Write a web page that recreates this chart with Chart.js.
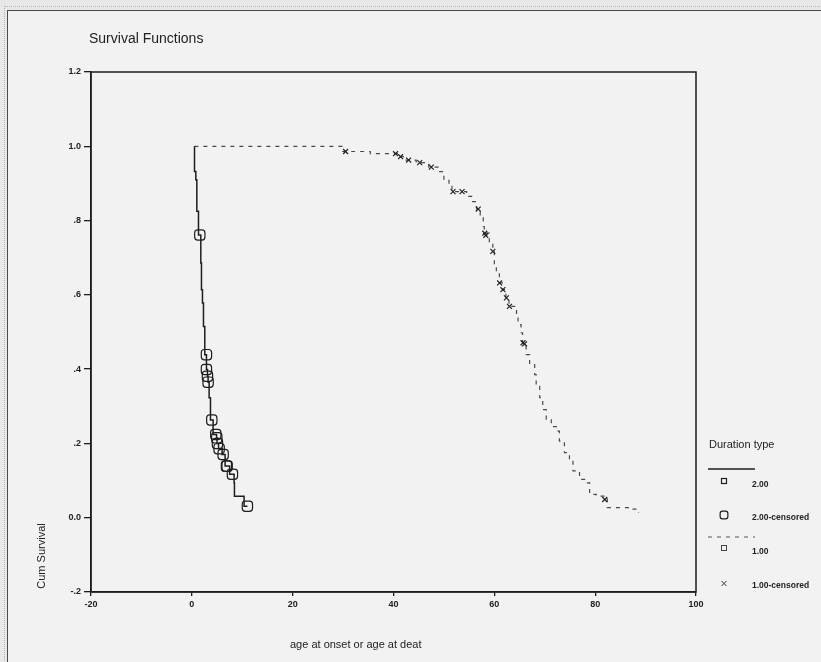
<!DOCTYPE html>
<html>
<head>
<meta charset="utf-8">
<title>Survival Functions</title>
<script src="https://cdn.jsdelivr.net/npm/chart.js@4/dist/chart.umd.min.js"></script>
<style>
  html, body { margin: 0; padding: 0; background: #e8e8e8; }
  #outer { position: absolute; left: 4px; top: 6px; width: 817px; height: 656px; border-left: 1px dotted #b4b4b4; border-top: 1px dotted #b4b4b4; }
  #panel { position: absolute; left: 7px; top: 10px; width: 814px; height: 652px; background: #f2f2f2; border-left: 1px solid #4a4a4a; border-top: 1px solid #4a4a4a; }
  #chart { position: absolute; left: 0; top: 0; }
</style>
</head>
<body>
<div id="outer"></div>
<div id="panel"></div>
<canvas id="chart" width="821" height="662"></canvas>
<script>
// Kaplan-Meier steps, duration type 2.00
const stepTimes2 = [0.53, 0.53, 0.79, 0.99, 1.32, 1.78, 1.91, 2.11, 2.31, 2.57, 2.90, 3.10, 3.23, 3.43, 3.70,
  4.22, 4.90, 5.00, 5.30, 6.00, 6.60, 7.50, 8.38, 8.45, 10.36, 11.02];
const stepSurv2 = [1.000, 0.932, 0.910, 0.825, 0.761, 0.686, 0.614, 0.578, 0.515, 0.439, 0.399, 0.381, 0.365, 0.323, 0.263,
  0.224, 0.215, 0.200, 0.186, 0.170, 0.139, 0.117, 0.094, 0.058, 0.031, 0.031];
const censTimes2 = [1.58, 2.90, 2.90, 3.10, 3.23, 3.96, 4.75, 4.95, 5.08, 5.41, 6.21, 6.87, 7.00, 8.05, 11.02];
const censSurv2 = [0.761, 0.439, 0.399, 0.381, 0.365, 0.263, 0.224, 0.215, 0.200, 0.186, 0.170, 0.139, 0.139, 0.117, 0.031];

// Kaplan-Meier steps, duration type 1.00
const stepTimes1 = [0.5, 29.8, 35.4, 41.0, 42.5, 44.5, 47.0, 49.0, 50.0, 51.0, 51.6, 54.5, 55.5, 56.5, 57.2, 57.8,
  58.0, 59.0, 59.7, 60.0, 60.4, 61.0, 61.6, 62.3, 62.9, 64.4, 64.7, 65.3, 65.6, 66.3, 67.0, 68.0, 68.3, 69.0,
  69.6, 70.3, 71.3, 72.3, 72.9, 73.9, 74.9, 75.6, 76.9, 78.2, 78.9, 80.2, 82.4, 86.8, 88.6];
const stepSurv1 = [1.000, 0.986, 0.980, 0.972, 0.963, 0.956, 0.944, 0.932, 0.911, 0.896, 0.878, 0.865, 0.851, 0.831, 0.807, 0.784,
  0.766, 0.739, 0.717, 0.677, 0.659, 0.632, 0.614, 0.592, 0.569, 0.547, 0.520, 0.498, 0.471, 0.439, 0.412, 0.385, 0.354, 0.323,
  0.291, 0.265, 0.245, 0.233, 0.206, 0.175, 0.152, 0.126, 0.103, 0.094, 0.063, 0.058, 0.027, 0.023, 0.014];
const censTimes1 = [30.5, 40.4, 41.4, 43.0, 45.2, 47.5, 51.8, 53.6, 56.8, 58.1, 58.3, 59.7, 61.05, 61.7, 62.4, 63.0, 65.7, 66.0, 81.9];
const censSurv1 = [0.986, 0.980, 0.972, 0.963, 0.956, 0.944, 0.878, 0.878, 0.831, 0.766, 0.760, 0.717, 0.632, 0.614, 0.592, 0.569, 0.471, 0.468, 0.049];

const xTickValues = [-20, 0, 20, 40, 60, 80, 100];
const yTickValues = [-0.2, 0, 0.2, 0.4, 0.6, 0.8, 1.0, 1.2];
const yTickLabels = ["-.2", "0.0", ".2", ".4", ".6", ".8", "1.0", "1.2"];

const legendItems = ["2.00", "2.00-censored", "1.00", "1.00-censored"];

const toPoints = (xs, ys) => xs.map((x, i) => ({ x, y: ys[i] }));

const INK = "#1e1e1e";
const tickFont = { family: "Liberation Sans, Arial, sans-serif", size: 9, weight: "bold" };

// titles, plot frame and the legend block on the right
const decorations = {
  id: "decorations",
  afterDraw(chart) {
    const { ctx, chartArea: a } = chart;
    ctx.save();
    ctx.strokeStyle = INK;
    ctx.lineWidth = 1.5;
    ctx.strokeRect(a.left, a.top, a.right - a.left, a.bottom - a.top);

    ctx.fillStyle = "#222";
    ctx.textBaseline = "middle";
    ctx.textAlign = "left";
    ctx.font = "14px 'Liberation Sans', Arial, sans-serif";
    ctx.fillText("Survival Functions", 89, 39);

    ctx.font = "11px 'Liberation Sans', Arial, sans-serif";
    ctx.fillText("age at onset or age at deat", 290, 645);

    ctx.save();
    ctx.translate(42, 556);
    ctx.rotate(-Math.PI / 2);
    ctx.textAlign = "center";
    ctx.fillText("Cum Survival", 0, 0);
    ctx.restore();

    // legend
    ctx.fillText("Duration type", 709, 445);
    const lx = 724, tx = 752;
    ctx.lineWidth = 1.3;
    ctx.strokeStyle = INK;
    ctx.beginPath(); ctx.moveTo(708, 469); ctx.lineTo(755, 469); ctx.stroke();

    ctx.lineWidth = 1.2;
    ctx.strokeRect(lx - 2.5, 478.5, 5, 5);

    ctx.fillStyle = "rgba(0,0,0,0)";
    Chart.helpers.drawPoint(ctx, { pointStyle: "rectRounded", radius: 4.5, borderWidth: 1.2 }, lx, 515);

    ctx.strokeStyle = "#555";
    ctx.setLineDash([4, 5]);
    ctx.beginPath(); ctx.moveTo(708, 537); ctx.lineTo(755, 537); ctx.stroke();
    ctx.setLineDash([]);

    ctx.strokeStyle = "#444";
    ctx.lineWidth = 1;
    ctx.strokeRect(lx - 2.5, 545.5, 5, 5);

    ctx.strokeStyle = "#333";
    ctx.beginPath();
    ctx.moveTo(lx - 2.5, 581); ctx.lineTo(lx + 2.5, 586);
    ctx.moveTo(lx + 2.5, 581); ctx.lineTo(lx - 2.5, 586);
    ctx.stroke();

    ctx.fillStyle = "#222";
    ctx.font = "bold 8.5px 'Liberation Sans', Arial, sans-serif";
    [485, 518, 552, 586].forEach((y, i) => ctx.fillText(legendItems[i], tx, y));
    ctx.restore();
  }
};

new Chart(document.getElementById("chart"), {
  type: "line",
  data: {
    datasets: [
      {
        label: "2.00-censored",
        data: toPoints(censTimes2, censSurv2),
        showLine: false,
        pointStyle: "rectRounded",
        pointRadius: 6,
        pointBorderWidth: 1.2,
        pointBorderColor: INK,
        pointBackgroundColor: "rgba(0,0,0,0)",
      },
      {
        label: "1.00-censored",
        data: toPoints(censTimes1, censSurv1),
        showLine: false,
        pointStyle: "crossRot",
        pointRadius: 3.5,
        pointBorderWidth: 1.2,
        pointBorderColor: "#222",
      },
      {
        label: "2.00",
        data: toPoints(stepTimes2, stepSurv2),
        stepped: "before",
        borderColor: INK,
        borderWidth: 1.5,
        pointRadius: 0,
        fill: false,
      },
      {
        label: "1.00",
        data: toPoints(stepTimes1, stepSurv1),
        stepped: "before",
        borderColor: "#4a4a4a",
        borderWidth: 1.2,
        borderDash: [4, 5],
        pointRadius: 0,
        fill: false,
      },
    ],
  },
  options: {
    responsive: false,
    animation: false,
    layout: { padding: { left: 0, top: 72, right: 125, bottom: 50 } },
    plugins: {
      legend: { display: false },
      tooltip: { enabled: false },
    },
    scales: {
      x: {
        type: "linear",
        min: -20,
        max: 100,
        afterBuildTicks(scale) { scale.ticks = xTickValues.map((value) => ({ value })); },
        afterFit(scale) { scale.height = 20; },
        ticks: { color: "#222", font: tickFont, padding: 3, maxRotation: 0 },
        grid: { drawOnChartArea: false, tickLength: 4, color: INK, lineWidth: 1.3 },
        border: { color: INK, width: 1.5 },
      },
      y: {
        min: -0.2,
        max: 1.2,
        afterBuildTicks(scale) { scale.ticks = yTickValues.map((value) => ({ value })); },
        afterFit(scale) { scale.width = 91; },
        ticks: { color: "#222", font: tickFont, padding: 3, callback: (value, index) => yTickLabels[index] },
        grid: { drawOnChartArea: false, tickLength: 7, color: INK, lineWidth: 1.3 },
        border: { color: INK, width: 1.5 },
      },
    },
  },
  plugins: [decorations],
});
</script>
</body>
</html>
